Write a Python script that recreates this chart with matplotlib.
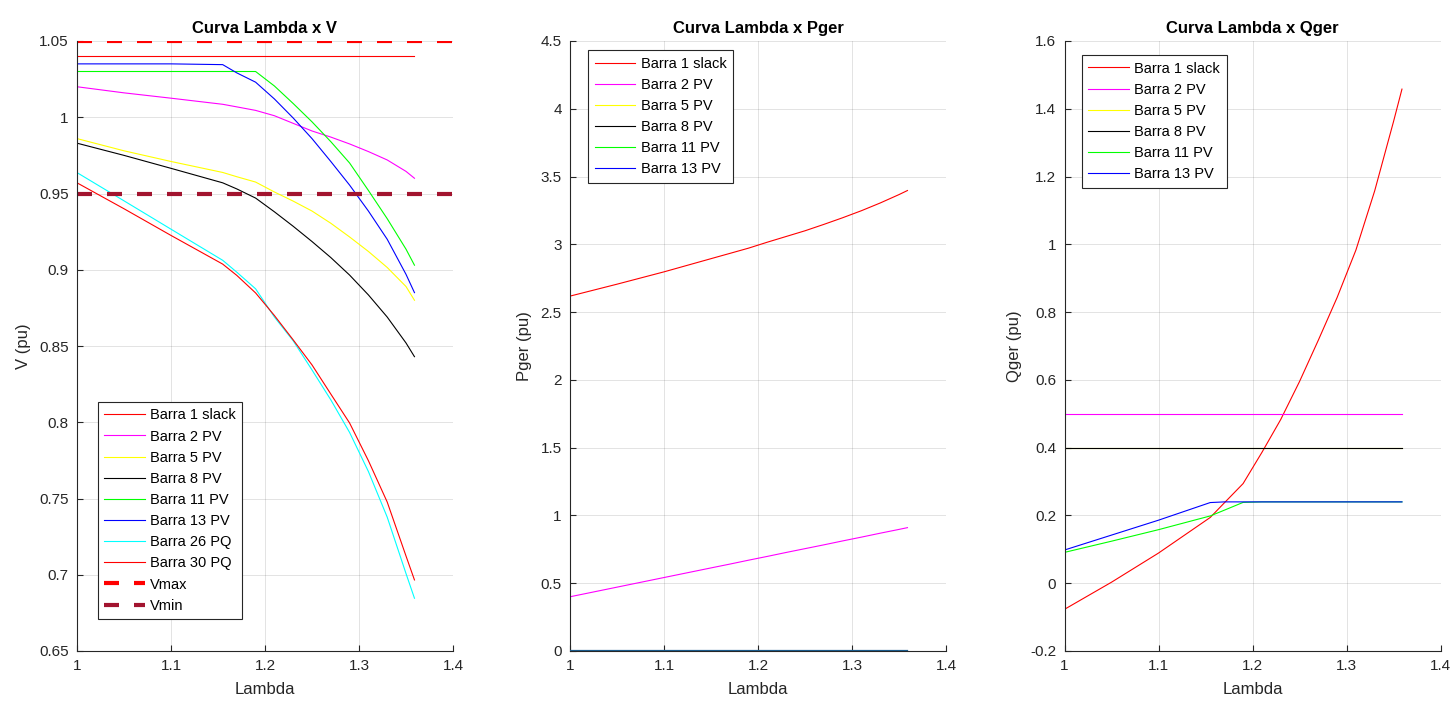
import numpy as np
import matplotlib
matplotlib.use("Agg")
from matplotlib import pyplot as plt
from matplotlib.ticker import MultipleLocator, FormatStrFormatter

plt.rcParams['font.family'] = ['Liberation Sans', 'DejaVu Sans']

# lambda steps
lam = [1.00, 1.05, 1.10, 1.155, 1.17, 1.19, 1.21, 1.23, 1.25, 1.27, 1.29, 1.31, 1.33, 1.35, 1.359]

# tensions (pu)
v_b1 = [1.04] * 15
v_b2 = [1.020, 1.016, 1.0125, 1.0085, 1.0068, 1.0045, 1.001, 0.996, 0.991, 0.987, 0.9825, 0.9775, 0.972, 0.9645, 0.960]
v_b5 = [0.986, 0.978, 0.971, 0.9638, 0.961, 0.9575, 0.951, 0.945, 0.9385, 0.9305, 0.9215, 0.912, 0.9015, 0.889, 0.880]
v_b8 = [0.983, 0.975, 0.9665, 0.957, 0.953, 0.947, 0.938, 0.9285, 0.9185, 0.908, 0.8965, 0.8835, 0.869, 0.852, 0.843]
v_b11 = [1.03, 1.03, 1.03, 1.03, 1.03, 1.03, 1.0205, 1.009, 0.997, 0.984, 0.970, 0.952, 0.9335, 0.9135, 0.903]
v_b13 = [1.035, 1.035, 1.035, 1.0345, 1.0291, 1.023, 1.012, 0.9995, 0.986, 0.971, 0.9555, 0.9385, 0.920, 0.897, 0.885]
v_b26 = [0.9637, 0.9452, 0.9266, 0.9062, 0.8984, 0.8875, 0.869, 0.8534, 0.8343, 0.8147, 0.7933, 0.7677, 0.7378, 0.7008, 0.6846]
v_b30 = [0.957, 0.940, 0.9225, 0.9037, 0.8963, 0.8848, 0.870, 0.854, 0.8376, 0.8185, 0.7995, 0.7748, 0.7477, 0.7123, 0.6966]
vmax = 1.05
vmin = 0.95

# active generation (pu)
p_b1 = [2.618, 2.706, 2.797, 2.904, 2.933, 2.972, 3.016, 3.058, 3.100, 3.147, 3.196, 3.248, 3.305, 3.367, 3.397]
p_b2 = [0.400, 0.471, 0.542, 0.620, 0.641, 0.670, 0.698, 0.727, 0.755, 0.783, 0.812, 0.840, 0.869, 0.897, 0.910]
p_b5 = [0.0] * 15
p_b8 = [0.0] * 15
p_b11 = [0.0] * 15
p_b13 = [0.0] * 15

# reactive generation (pu)
q_b1 = [-0.077, 0.003, 0.089, 0.194, 0.237, 0.294, 0.386, 0.483, 0.595, 0.717, 0.843, 0.983, 1.158, 1.362, 1.458]
q_b2 = [0.5] * 15
q_b5 = [0.4] * 15
q_b8 = [0.4] * 15
q_b11 = [0.091, 0.124, 0.158, 0.1985, 0.2155, 0.2385, 0.24, 0.24, 0.24, 0.24, 0.24, 0.24, 0.24, 0.24, 0.24]
q_b13 = [0.098, 0.142, 0.186, 0.238, 0.24, 0.24, 0.24, 0.24, 0.24, 0.24, 0.24, 0.24, 0.24, 0.24, 0.24]

gen_names = ['Barra 1 slack', 'Barra 2 PV', 'Barra 5 PV', 'Barra 8 PV', 'Barra 11 PV', 'Barra 13 PV']
gen_colors = ['#ff0000', '#ff00ff', '#ffff00', '#000000', '#00ff00', '#0000ff']

dark = '#262626'
lw = 0.8

fig = plt.figure(figsize=(14.52, 7.06), dpi=100)
w = 376 / 1452
h = 610 / 706
b = 55 / 706
ax1 = fig.add_axes([77 / 1452, b, w, h])
ax2 = fig.add_axes([570 / 1452, b, w, h])
ax3 = fig.add_axes([1064.5 / 1452, b, w, h])


def style(ax, title, ylabel, ylo, yhi, ystep):
    ax.set_xlim(1, 1.4)
    ax.set_ylim(ylo, yhi)
    ax.xaxis.set_major_locator(MultipleLocator(0.1))
    ax.yaxis.set_major_locator(MultipleLocator(ystep))
    ax.xaxis.set_major_formatter(FormatStrFormatter('%g'))
    ax.yaxis.set_major_formatter(FormatStrFormatter('%g'))
    ax.grid(True, color=dark, alpha=0.15, linewidth=0.6)
    ax.set_axisbelow(True)
    for s in ['top', 'right']:
        ax.spines[s].set_visible(False)
    for s in ['left', 'bottom']:
        ax.spines[s].set_color(dark)
        ax.spines[s].set_linewidth(0.8)
    ax.tick_params(direction='in', length=4, width=0.8, colors=dark, labelsize=11, pad=6)
    ax.set_title(title, fontsize=12, fontweight='bold', color='black', pad=6)
    ax.set_xlabel('Lambda', fontsize=12, color=dark, labelpad=6)
    ax.set_ylabel(ylabel, fontsize=12, color=dark, labelpad=6)


def legend(ax, loc, anchor):
    leg = ax.legend(loc=loc, bbox_to_anchor=anchor, borderaxespad=0, fontsize=10.5,
                    fancybox=False, framealpha=1, edgecolor=dark, handlelength=2.8,
                    handletextpad=0.35, labelspacing=0.49, borderpad=0.45)
    leg.get_frame().set_linewidth(0.8)
    return leg


# V
v_series = [v_b1, v_b2, v_b5, v_b8, v_b11, v_b13, v_b26, v_b30]
v_names = gen_names + ['Barra 26 PQ', 'Barra 30 PQ']
v_colors = gen_colors + ['#00ffff', '#ff0000']
for y, n, c in zip(v_series, v_names, v_colors):
    ax1.plot(lam, y, color=c, lw=lw, label=n)
ax1.axhline(vmax, color='#ff0000', lw=3, ls=(0, (3.6, 3.6)), label='Vmax')
ax1.axhline(vmin, color='#a2142f', lw=3, ls=(0, (3.6, 3.6)), label='Vmin')
style(ax1, 'Curva Lambda x V', 'V (pu)', 0.65, 1.05, 0.05)
legend(ax1, 'lower left', (0.055, 0.052))

# Pger
for y, n, c in zip([p_b1, p_b2, p_b5, p_b8, p_b11, p_b13], gen_names, gen_colors):
    ax2.plot(lam, y, color=c, lw=lw, label=n)
# PV buses without active generation overlap on the bottom edge
ax2.plot(lam, p_b13, color='#1a5a8a', lw=1.6, zorder=5)
style(ax2, 'Curva Lambda x Pger', 'Pger (pu)', 0, 4.5, 0.5)
legend(ax2, 'upper left', (0.048, 0.985))

# Qger
for y, n, c in zip([q_b1, q_b2, q_b5, q_b8, q_b11, q_b13], gen_names, gen_colors):
    ax3.plot(lam, y, color=c, lw=lw, label=n)
style(ax3, 'Curva Lambda x Qger', 'Qger (pu)', -0.2, 1.6, 0.2)
legend(ax3, 'upper left', (0.046, 0.977))

fig.savefig('out.png', dpi=100)
